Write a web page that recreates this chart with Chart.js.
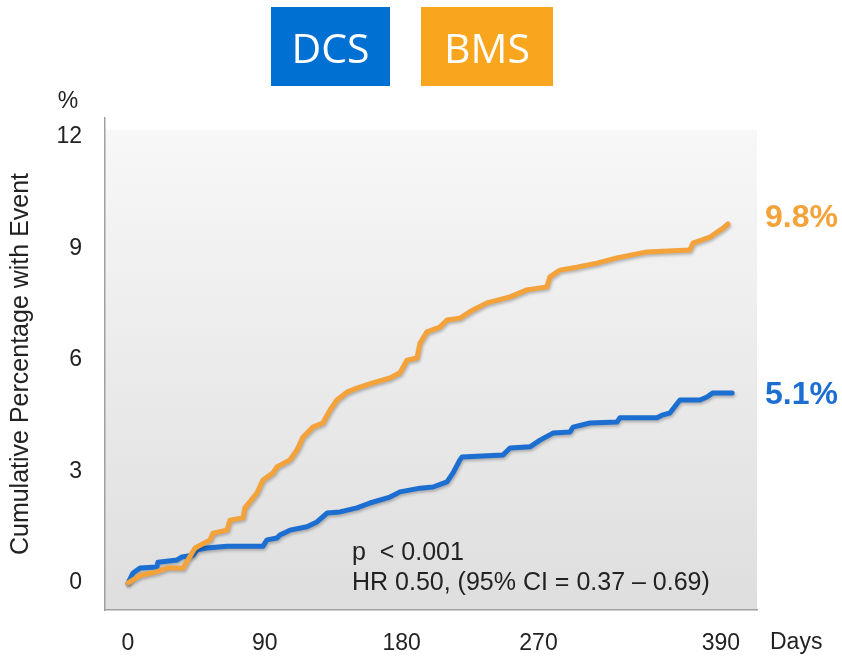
<!DOCTYPE html>
<html>
<head>
<meta charset="utf-8">
<script src="https://cdn.jsdelivr.net/npm/chart.js@4"></script>
<style>
html,body{margin:0;padding:0;background:#fff;}
#wrap{width:842px;height:658px;position:relative;}
</style>
</head>
<body>
<div id="wrap"><canvas id="c" width="842" height="658"></canvas></div>
<script>
// ---- data (days, cumulative %) ----
const bmsDays = [0, 7.9, 18.7, 25.6, 36.2, 44.1, 54.0, 55.9, 65.1, 67.1, 75.7, 76.9, 84.8, 88.8, 95.4, 98.0, 106.5, 111.2, 115.1, 121.6, 128.2, 132.9, 137.4, 144.0, 150.6, 161.1, 172.3, 178.9, 183.5, 190.1, 192.1, 196.6, 205.2, 209.8, 218.3, 226.9, 236.1, 251.3, 262.4, 275.5, 277.5, 284.1, 295.3, 308.5, 321.6, 341.3, 369.6, 371.6, 382.8, 391.4, 394.6];
const bmsPct  = [0, 0.2, 0.3, 0.4, 0.4, 0.94, 1.16, 1.34, 1.42, 1.69, 1.75, 2.02, 2.42, 2.77, 2.96, 3.12, 3.31, 3.58, 3.92, 4.19, 4.3, 4.65, 4.92, 5.13, 5.24, 5.38, 5.51, 5.65, 5.99, 6.05, 6.45, 6.75, 6.88, 7.07, 7.12, 7.34, 7.53, 7.69, 7.88, 7.96, 8.23, 8.41, 8.49, 8.6, 8.74, 8.9, 8.95, 9.14, 9.3, 9.54, 9.65];
const dcsDays = [0, 3.3, 7.9, 19.0, 19.7, 32.3, 35.5, 42.7, 45.4, 52.0, 65.1, 88.8, 91.4, 98.0, 99.9, 106.5, 117.7, 124.3, 130.9, 139.4, 150.6, 159.1, 172.3, 178.9, 192.1, 200.6, 209.8, 213.8, 218.3, 219.7, 246.6, 251.3, 264.4, 271.0, 279.5, 290.7, 292.7, 303.8, 321.6, 323.6, 347.9, 351.9, 356.4, 363.0, 376.2, 380.8, 384.7, 397.3];
const dcsPct  = [0, 0.27, 0.4, 0.43, 0.56, 0.62, 0.7, 0.75, 0.89, 0.94, 0.99, 0.99, 1.16, 1.21, 1.29, 1.42, 1.51, 1.64, 1.88, 1.91, 2.02, 2.15, 2.31, 2.45, 2.55, 2.58, 2.72, 2.96, 3.31, 3.39, 3.44, 3.63, 3.66, 3.84, 4.03, 4.06, 4.19, 4.3, 4.33, 4.44, 4.44, 4.52, 4.57, 4.92, 4.92, 5.0, 5.11, 5.11];
const xTickValues = [0, 90, 180, 270, 390];
const yTickValues = [0, 3, 6, 9, 12];
const seriesNames = ['DCS', 'BMS'];
const endLabels = ['5.1%', '9.8%'];
const statsLines = ['p  < 0.001', 'HR 0.50, (95% CI = 0.37 \u2013 0.69)'];

const BLUE = '#1c6fd1';
const ORANGE = '#f4a23a';
const BOX_BLUE = '#0071d3';
const BOX_ORANGE = '#f9a61e';
const FONT = '"Liberation Sans", Arial, sans-serif';

const toXY = (xs, ys) => xs.map((x, i) => ({x: x, y: ys[i]}));

const bgPlugin = {
  id: 'bg',
  beforeDraw(chart) {
    const {ctx, chartArea: a} = chart;
    const g = ctx.createLinearGradient(0, a.top, 0, a.bottom);
    g.addColorStop(0, '#f8f8f8');
    g.addColorStop(1, '#dedede');
    ctx.save();
    ctx.fillStyle = g;
    ctx.fillRect(a.left, a.top + 12, a.right - a.left, a.bottom - a.top - 12);
    ctx.restore();
  },
  beforeDatasetsDraw(chart) {
    chart.ctx.save();
    chart.ctx.shadowColor = 'rgba(0,0,0,0.25)';
    chart.ctx.shadowBlur = 3;
    chart.ctx.shadowOffsetX = 1;
    chart.ctx.shadowOffsetY = 2;
  },
  afterDatasetsDraw(chart) {
    chart.ctx.restore();
  },
  afterDraw(chart) {
    const {ctx} = chart;
    ctx.save();
    // legend boxes
    const boxes = [
      {x: 271, w: 119, c: BOX_BLUE, t: seriesNames[0]},
      {x: 421, w: 132, c: BOX_ORANGE, t: seriesNames[1]}
    ];
    boxes.forEach(b => {
      ctx.fillStyle = b.c;
      ctx.fillRect(b.x, 7, b.w, 79);
      ctx.fillStyle = '#ffffff';
      ctx.font = '41px "Open Sans", "Noto Sans", sans-serif';
      ctx.textAlign = 'center';
      ctx.textBaseline = 'alphabetic';
      ctx.fillText(b.t, b.x + b.w / 2, 63);
    });
    // unit labels
    ctx.fillStyle = '#222';
    ctx.font = '23px ' + FONT;
    ctx.textAlign = 'center';
    ctx.textBaseline = 'middle';
    ctx.fillText('%', 68, 102);
    ctx.textAlign = 'left';
    ctx.fillText('Days', 770, 643);
    // end labels
    ctx.font = 'bold 32px ' + FONT;
    ctx.fillStyle = ORANGE;
    ctx.fillText(endLabels[1], 765, 218);
    ctx.fillStyle = BLUE;
    ctx.fillText(endLabels[0], 765, 395);
    // stats
    ctx.fillStyle = '#222';
    ctx.font = '25px ' + FONT;
    ctx.fillText(statsLines[0], 352, 553);
    ctx.fillText(statsLines[1], 352, 583);
    ctx.restore();
  }
};

new Chart(document.getElementById('c'), {
  type: 'line',
  data: {
    datasets: [
      {label: seriesNames[1], data: toXY(bmsDays, bmsPct), borderColor: ORANGE, borderWidth: 5, pointRadius: 0, tension: 0, fill: false, borderJoinStyle: 'round', borderCapStyle: 'round'},
      {label: seriesNames[0], data: toXY(dcsDays, dcsPct), borderColor: BLUE, borderWidth: 5, pointRadius: 0, tension: 0, fill: false, borderJoinStyle: 'round', borderCapStyle: 'round'}
    ]
  },
  options: {
    responsive: false,
    animation: false,
    events: [],
    layout: {padding: {left: 0, right: 85, top: 118, bottom: 0}},
    plugins: {legend: {display: false}, tooltip: {enabled: false}, title: {display: false}},
    scales: {
      x: {
        type: 'linear',
        min: -15.13,
        max: 413.7,
        afterBuildTicks: s => { s.ticks = xTickValues.map(v => ({value: v})); },
        afterFit: s => { s.height = 48; },
        grid: {display: false, drawTicks: false},
        border: {display: true, color: '#a0a0a0', width: 1.5},
        ticks: {font: {family: FONT, size: 23}, color: '#222', padding: 20, autoSkip: false, maxRotation: 0, callback: v => String(v)}
      },
      y: {
        type: 'linear',
        min: -0.726,
        max: 12.5,
        afterBuildTicks: s => { s.ticks = yTickValues.map(v => ({value: v})); },
        afterFit: s => { s.width = 105; },
        grid: {display: false, drawTicks: false},
        border: {display: true, color: '#a0a0a0', width: 1.5},
        ticks: {font: {family: FONT, size: 23}, color: '#222', padding: 23, callback: v => String(v)},
        title: {display: true, text: 'Cumulative Percentage with Event', font: {family: FONT, size: 25}, color: '#222', padding: {top: 6, bottom: 0}}
      }
    }
  },
  plugins: [bgPlugin]
});
</script>
</body>
</html>
